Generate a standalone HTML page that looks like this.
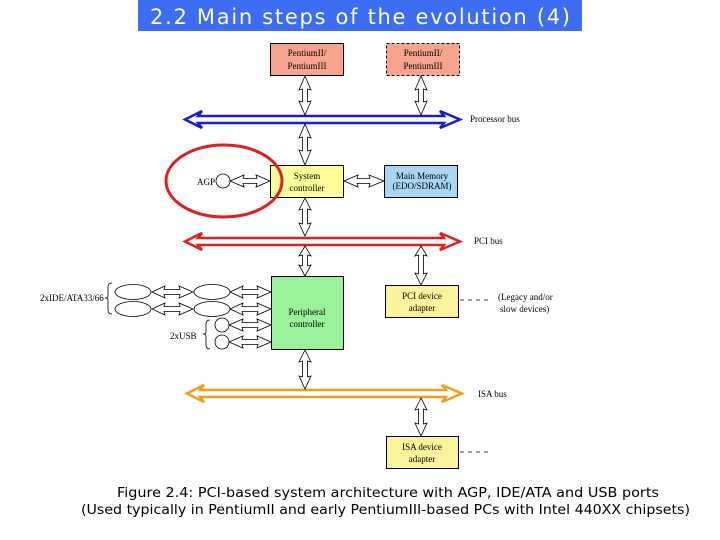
<!DOCTYPE html>
<html><head><meta charset="utf-8"><style>
html,body{margin:0;padding:0;background:#fff;}
svg{display:block}
.s{font-family:"Liberation Serif",serif;font-size:9px;fill:#000}
.c{font-family:"DejaVu Sans","Liberation Sans",sans-serif;font-size:13px;fill:#000}
</style></head><body>
<svg width="720" height="540" viewBox="0 0 720 540" xmlns="http://www.w3.org/2000/svg">
<rect x="138" y="0" width="444" height="31" fill="#3c6df2"/>
<text x="360" y="24" text-anchor="middle" font-family="DejaVu Sans, Liberation Sans, sans-serif" font-size="21" fill="#fff" textLength="420">2.2 Main steps of the evolution (4)</text>

<rect x="270.5" y="43.5" width="73" height="32" fill="#f6a48e" stroke="#000"/>
<text class="s" x="307" y="56" text-anchor="middle">PentiumII/</text>
<text class="s" x="307" y="69" text-anchor="middle">PentiumIII</text>
<rect x="386.5" y="43.5" width="73" height="32" fill="#f6a48e" stroke="#000" stroke-dasharray="3,2"/>
<text class="s" x="423" y="56" text-anchor="middle">PentiumII/</text>
<text class="s" x="423" y="69" text-anchor="middle">PentiumIII</text>

<rect x="270.5" y="165.5" width="73" height="32" fill="#ffff99" stroke="#000"/>
<text class="s" x="307" y="179" text-anchor="middle">System</text>
<text class="s" x="307" y="191" text-anchor="middle">controller</text>
<rect x="384.5" y="165.5" width="73" height="32" fill="#a6d8f5" stroke="#000"/>
<text class="s" x="422" y="179" text-anchor="middle">Main Memory</text>
<text class="s" x="422" y="189" text-anchor="middle">(EDO/SDRAM)</text>

<rect x="271.5" y="276.5" width="72" height="73" fill="#99f299" stroke="#000"/>
<text class="s" x="307" y="315" text-anchor="middle">Peripheral</text>
<text class="s" x="307" y="327" text-anchor="middle">controller</text>

<rect x="385.5" y="285.5" width="73" height="32" fill="#fbf39c" stroke="#000"/>
<text class="s" x="422" y="299" text-anchor="middle">PCI device</text>
<text class="s" x="422" y="311" text-anchor="middle">adapter</text>
<rect x="386.5" y="436.5" width="72" height="32" fill="#fbf39c" stroke="#000"/>
<text class="s" x="422" y="450" text-anchor="middle">ISA device</text>
<text class="s" x="422" y="462" text-anchor="middle">adapter</text>

<g stroke-width="2.5" fill="#fff" stroke-linejoin="miter">
<polygon stroke="#1520c8" points="185,119.5 202,111 198,116 444,116 440,111 460,119.5 440,128 444,123 198,123 202,128"/>
<polygon stroke="#e02020" points="185,241.5 202,233 198,238 444,238 440,233 460,241.5 440,250 444,245 198,245 202,250"/>
<polygon stroke="#f0a020" points="187,393.5 204,385 200,390 446,390 442,385 462,393.5 442,402 446,397 200,397 204,402"/>
</g>
<text class="s" x="470" y="122">Processor bus</text>
<text class="s" x="474" y="244">PCI bus</text>
<text class="s" x="478" y="397">ISA bus</text>

<g fill="#fff" stroke="#000" stroke-width="0.8">
<path d="M305,76 L299,90 L302.5,89 L302.5,102 L299,101 L305,115 L311,101 L307.5,102 L307.5,89 L311,90 Z"/>
<path d="M421,76 L415,90 L418.5,89 L418.5,102 L415,101 L421,115 L427,101 L423.5,102 L423.5,89 L427,90 Z"/>
<path d="M305,124 L299,138 L302.5,137 L302.5,151 L299,150 L305,165 L311,150 L307.5,151 L307.5,137 L311,138 Z"/>
<path d="M305,198 L299,210 L302.5,209 L302.5,224 L299,223 L305,236 L311,223 L307.5,224 L307.5,209 L311,210 Z"/>
<path d="M305,246 L299,256 L302.5,255 L302.5,266 L299,265 L305,276 L311,265 L307.5,266 L307.5,255 L311,256 Z"/>
<path d="M421,246 L415,256 L418.5,255 L418.5,274 L415,273 L421,285 L427,273 L423.5,274 L423.5,255 L427,256 Z"/>
<path d="M305,350 L299,362 L302.5,361 L302.5,377 L299,376 L305,389 L311,376 L307.5,377 L307.5,361 L311,362 Z"/>
<path d="M421,398 L415,410 L418.5,409 L418.5,424 L415,423 L421,436 L427,423 L423.5,424 L423.5,409 L427,410 Z"/>
<path d="M230,181 L244,175 L243,178.5 L257,178.5 L256,175 L270,181 L256,187 L257,183.5 L243,183.5 L244,187 Z"/>
<path d="M344,181 L358,175 L357,178.5 L370,178.5 L369,175 L384,181 L369,187 L370,183.5 L357,183.5 L358,187 Z"/>
<path d="M152,292 L165,286 L164,289.5 L180,289.5 L179,286 L193,292 L179,298 L180,294.5 L164,294.5 L165,298 Z"/>
<path d="M152,309 L165,303 L164,306.5 L180,306.5 L179,303 L193,309 L179,315 L180,311.5 L164,311.5 L165,315 Z"/>
<path d="M230,292 L243,286 L242,289.5 L258,289.5 L257,286 L271,292 L257,298 L258,294.5 L242,294.5 L243,298 Z"/>
<path d="M230,309 L243,303 L242,306.5 L258,306.5 L257,303 L271,309 L257,315 L258,311.5 L242,311.5 L243,315 Z"/>
<path d="M229,325 L243,319 L242,322.5 L258,322.5 L257,319 L271,325 L257,331 L258,327.5 L242,327.5 L243,331 Z"/>
<path d="M229,342 L243,336 L242,339.5 L258,339.5 L257,336 L271,342 L257,348 L258,344.5 L242,344.5 L243,348 Z"/>
</g>

<circle cx="223" cy="181" r="7" fill="#fff" stroke="#000" stroke-width="0.8"/>
<text class="s" x="215" y="185" text-anchor="end">AGP</text>
<ellipse cx="224" cy="181" rx="58" ry="36" fill="none" stroke="#e02020" stroke-width="3"/>

<g fill="#fff" stroke="#000" stroke-width="0.8">
<ellipse cx="133" cy="292" rx="18" ry="7.5"/>
<ellipse cx="133" cy="309" rx="18" ry="7.5"/>
<ellipse cx="212" cy="292" rx="18" ry="7.5"/>
<ellipse cx="212" cy="309" rx="18" ry="7.5"/>
<circle cx="222" cy="325" r="7"/>
<circle cx="222" cy="342" r="7"/>
<path fill="none" d="M112,283 Q108,283 108,287 L108,296 Q108,298 105,298 Q108,298 108,300 L108,310 Q108,314 112,314"/>
<path fill="none" d="M210,320 Q206,320 206,324 L206,332 Q206,334 203,334 Q206,334 206,336 L206,345 Q206,349 210,349"/>
</g>
<text class="s" x="40" y="301">2xIDE/ATA33/66</text>
<text class="s" x="170" y="339">2xUSB</text>

<line x1="460" y1="300" x2="490" y2="300" stroke="#000" stroke-width="0.8" stroke-dasharray="4,4"/>
<line x1="460" y1="452" x2="490" y2="452" stroke="#000" stroke-width="0.8" stroke-dasharray="4,4"/>
<text class="s" x="498" y="300">(Legacy and/or</text>
<text class="s" x="500" y="312">slow devices)</text>

<text class="c" x="117" y="497" textLength="542" lengthAdjust="spacingAndGlyphs">Figure 2.4: PCI-based system architecture with AGP, IDE/ATA and USB ports</text>
<text class="c" x="81" y="514" textLength="609" lengthAdjust="spacingAndGlyphs">(Used typically in PentiumII and early PentiumIII-based PCs with Intel 440XX chipsets)</text>
</svg>
</body></html>
